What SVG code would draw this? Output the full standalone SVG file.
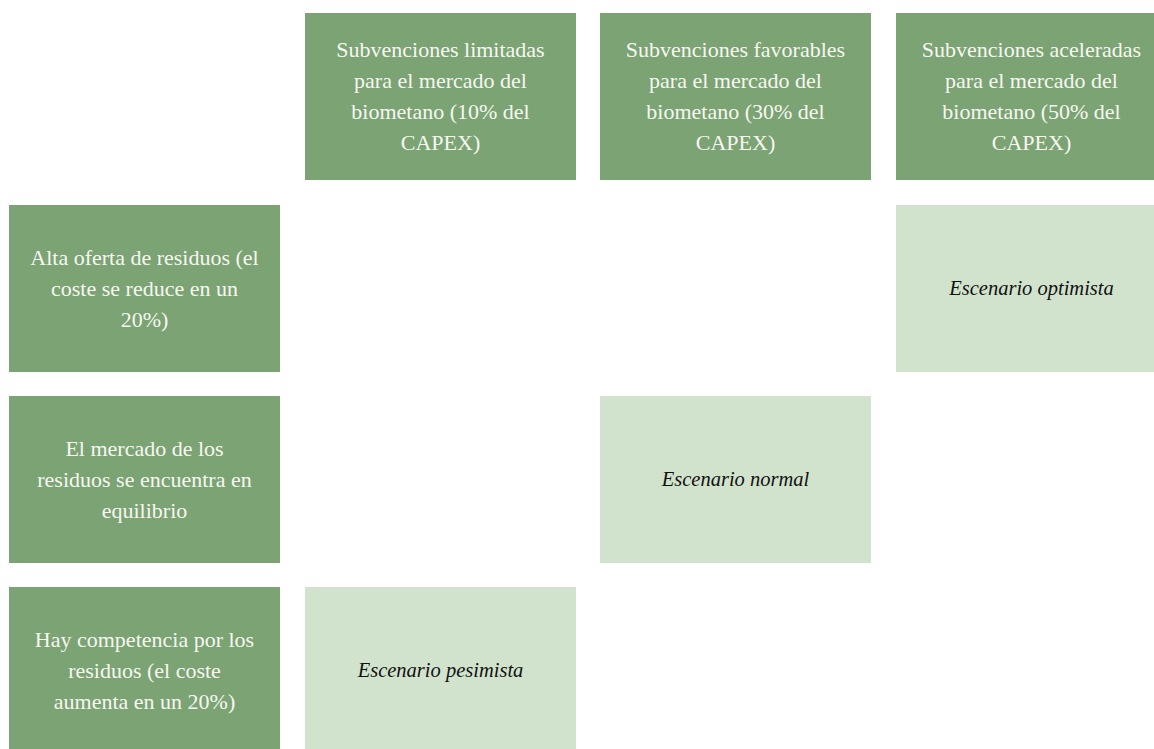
<svg xmlns="http://www.w3.org/2000/svg" width="1154" height="749" viewBox="0 0 1154 749">
<style>
.h{fill:#7ba373}
.s{fill:#d1e3cd}
.ht{font-family:"Liberation Serif","Times New Roman",serif;font-size:22px;fill:#f7f7f2;text-anchor:middle}
.st{font-family:"Liberation Serif","Times New Roman",serif;font-size:20.5px;font-style:italic;fill:#111;text-anchor:middle}
</style>
<rect width="1154" height="749" fill="#fff"/>
<g id="col1"><rect class="h" x="305" y="13" width="271" height="167"/>
<text class="ht" x="440.5" y="57">Subvenciones limitadas</text>
<text class="ht" x="440.5" y="88">para el mercado del</text>
<text class="ht" x="440.5" y="119">biometano (10% del</text>
<text class="ht" x="440.5" y="150">CAPEX)</text></g>
<g id="col2"><rect class="h" x="600" y="13" width="271" height="167"/>
<text class="ht" x="735.5" y="57">Subvenciones favorables</text>
<text class="ht" x="735.5" y="88">para el mercado del</text>
<text class="ht" x="735.5" y="119">biometano (30% del</text>
<text class="ht" x="735.5" y="150">CAPEX)</text></g>
<g id="col3"><rect class="h" x="896" y="13" width="271" height="167"/>
<text class="ht" x="1031.5" y="57">Subvenciones aceleradas</text>
<text class="ht" x="1031.5" y="88">para el mercado del</text>
<text class="ht" x="1031.5" y="119">biometano (50% del</text>
<text class="ht" x="1031.5" y="150">CAPEX)</text></g>
<g id="row1"><rect class="h" x="9" y="205" width="271" height="167"/>
<text class="ht" x="144.5" y="265">Alta oferta de residuos (el</text>
<text class="ht" x="144.5" y="296">coste se reduce en un</text>
<text class="ht" x="144.5" y="327">20%)</text></g>
<g id="row2"><rect class="h" x="9" y="396" width="271" height="167"/>
<text class="ht" x="144.5" y="456">El mercado de los</text>
<text class="ht" x="144.5" y="487">residuos se encuentra en</text>
<text class="ht" x="144.5" y="518">equilibrio</text></g>
<g id="row3"><rect class="h" x="9" y="587" width="271" height="167"/>
<text class="ht" x="144.5" y="647">Hay competencia por los</text>
<text class="ht" x="144.5" y="678">residuos (el coste</text>
<text class="ht" x="144.5" y="709">aumenta en un 20%)</text></g>
<g id="optimista"><rect class="s" x="896" y="205" width="271" height="167"/>
<text class="st" x="1031.5" y="295">Escenario optimista</text></g>
<g id="normal"><rect class="s" x="600" y="396" width="271" height="167"/>
<text class="st" x="735.5" y="486">Escenario normal</text></g>
<g id="pesimista"><rect class="s" x="305" y="587" width="271" height="167"/>
<text class="st" x="440.5" y="677">Escenario pesimista</text></g>
<g id="connectors"/>
</svg>
